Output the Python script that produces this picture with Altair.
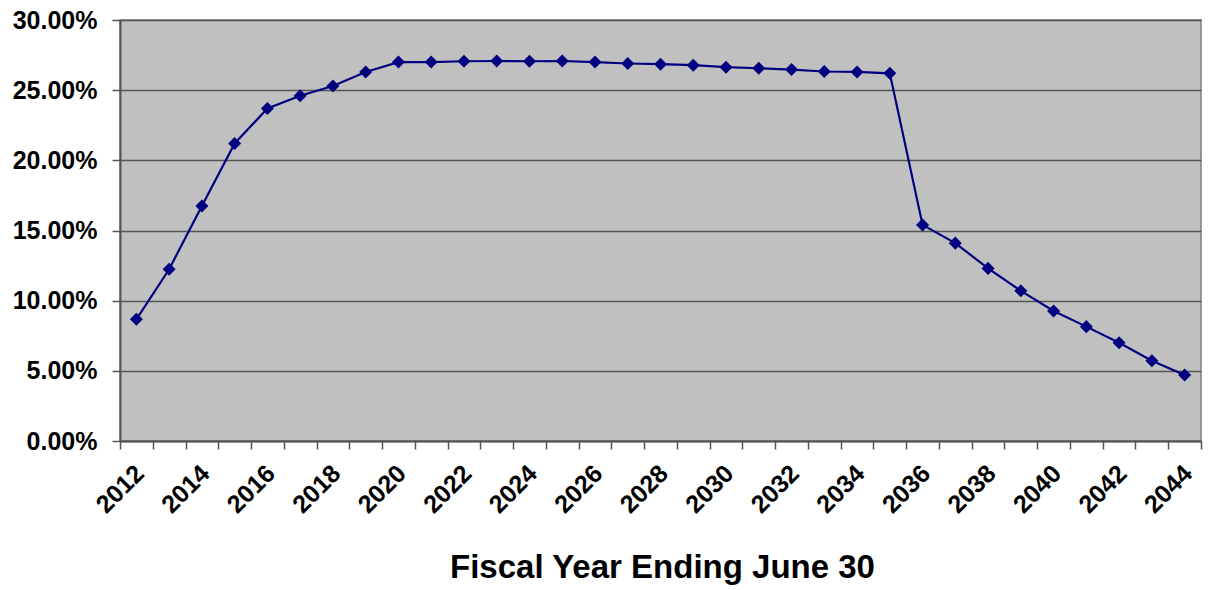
import altair as alt
import pandas as pd

years = list(range(2012, 2045))
rates = [8.67, 12.24, 16.75, 21.2, 23.7, 24.6, 25.3, 26.3, 27.0, 27.0,
         27.06, 27.08, 27.06, 27.08, 27.0, 26.9, 26.85, 26.78, 26.64, 26.56,
         26.47, 26.33, 26.3, 26.2, 15.4, 14.1, 12.3, 10.7, 9.27, 8.15,
         7.0, 5.72, 4.7]
y_ticks = [0, 0.05, 0.10, 0.15, 0.20, 0.25, 0.30]

df = pd.DataFrame({"year": years, "rate": [r / 100 for r in rates]})

FONT = "Liberation Sans"
NAVY = "#000080"

x_enc = alt.X(
    "year:O",
    bandPosition=0.5,
    scale=alt.Scale(type="band", paddingInner=0, paddingOuter=0),
    axis=alt.Axis(
        title="Fiscal Year Ending June 30",
        labelExpr="datum.value % 2 == 0 ? datum.label : ''",
        labelAngle=-45,
        labelAlign="right",
        labelBaseline="middle",
        labelFont=FONT,
        labelFontSize=25,
        labelFontWeight="bold",
        labelColor="#000000",
        labelPadding=20,
        labelOffset=3,
        tickBand="extent",
        tickSize=8,
        tickColor="#555555",
        tickWidth=1.5,
        domainColor="#555555",
        domainWidth=2,
        grid=False,
        titleFont=FONT,
        titleFontSize=33,
        titleFontWeight="bold",
        titleColor="#000000",
        titleBaseline="alphabetic",
        titleY=136,
        titleX=542,
    ),
)

y_enc = alt.Y(
    "rate:Q",
    scale=alt.Scale(domain=[0, 0.30], nice=False),
    axis=alt.Axis(
        title=None,
        values=y_ticks,
        format=".2%",
        labelFont=FONT,
        labelFontSize=25,
        labelFontWeight="bold",
        labelColor="#000000",
        labelPadding=15,
        tickSize=8,
        tickColor="#555555",
        tickWidth=1.5,
        domainColor="#555555",
        domainWidth=2,
        grid=True,
        gridColor="#555555",
        gridWidth=1.5,
    ),
)

base = alt.Chart(df).encode(x=x_enc, y=y_enc)
line = base.mark_line(color=NAVY, strokeWidth=2.2)
pts = base.mark_point(shape="diamond", filled=True, color=NAVY, size=170, opacity=1)

chart = (
    alt.layer(line, pts)
    .properties(
        width=1081,
        height=421,
        autosize=alt.AutoSizeParams(type="none"),
        padding={"left": 120, "top": 20, "right": 8, "bottom": 149},
        background="#ffffff",
    )
    .configure_view(fill="#C0C0C0", stroke="#808080", strokeWidth=1.5)
)

chart.save("out.html", embed_options={"renderer": "svg", "actions": False})
